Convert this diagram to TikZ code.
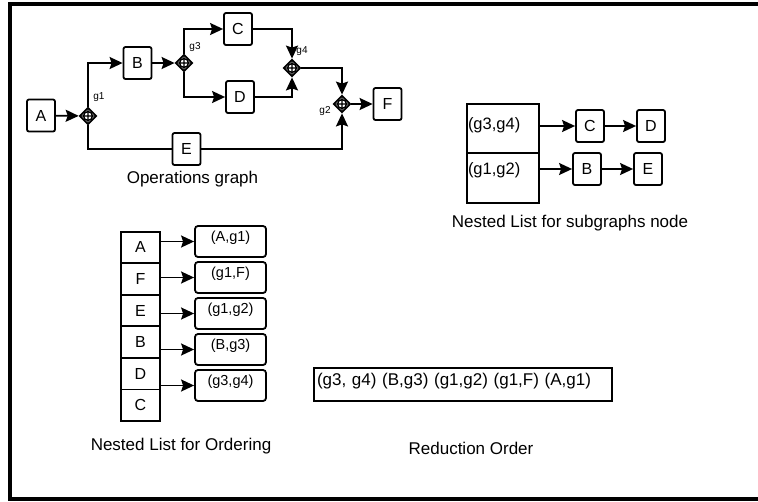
\documentclass[tikz,border=0pt]{standalone}
\usepackage{fontspec}
\setmainfont{Liberation Sans}
\usetikzlibrary{arrows.meta,positioning,shapes.geometric}

\begin{document}
\begin{tikzpicture}
    [x=1pt,y=-1pt,
     op/.style={draw,rectangle,rounded corners=2pt,line width=1.8pt,
       minimum width=28pt,minimum height=32pt,inner sep=0pt,
       font=\fontsize{16}{18}\selectfont},
     gate/.style={draw,diamond,line width=1.8pt,minimum size=17pt,inner sep=0pt,
       path picture={\draw[line width=1.4pt]
         (path picture bounding box.center) circle (4.5pt)
         (path picture bounding box.north) -- (path picture bounding box.south)
         (path picture bounding box.west) -- (path picture bounding box.east);}},
     glabel/.style={font=\fontsize{10}{12}\selectfont,inner sep=0pt},
     caption/.style={font=\fontsize{17}{20}\selectfont,inner sep=0pt},
     cell/.style={draw,rectangle,line width=1.8pt,inner sep=0pt},
     ordbox/.style={draw,rectangle,rounded corners=3pt,line width=1.8pt,
       minimum width=71pt,minimum height=31pt,inner sep=0pt,
       font=\fontsize{14.5}{17}\selectfont,text height=10.6pt,text depth=11.5pt},
     link/.style={line width=1.8pt},
     arr/.style={link,-{Stealth[length=13pt,width=12pt,inset=2pt]}}]
    \useasboundingbox (0,0) rectangle (758,501);
    \draw[line width=3.4pt] (770,4) -- (10,4) -- (10,499) -- (770,499);

    \node[op] (A) at (41,115.5) {A};
    \node[gate] (g1) at (88,116) {};
    \node[op] (B) at (137.5,63) {B};
    \node[gate] (g3) at (184,63) {};
    \node[op] (C) at (238,29) {C};
    \node[op] (D) at (240,97) {D};
    \node[gate] (g4) at (292,68) {};
    \node[gate] (g2) at (342,104) {};
    \node[op] (F) at (387.5,104) {F};
    \node[op] (E) at (186.5,149) {E};

    \node[glabel] (g1 txt) at (99,97) {g1};
    \node[glabel] (g3 txt) at (195,47) {g3};
    \node[glabel] (g4 txt) at (302,51) {g4};
    \node[glabel] (g2 txt) at (325,111) {g2};

    \draw[arr] (A) -- (g1);
    \draw[arr] (g1) |- (B);
    \draw[arr] (B) -- (g3);
    \draw[arr] (g3) |- (C);
    \draw[arr] (g3) |- (D);
    \draw[arr] (C) -| (g4);
    \draw[arr] (D) -| (g4);
    \draw[arr] (g4) -| (g2);
    \draw[arr] (g2) -- (F);
    \draw[link] (g1) |- (E);
    \draw[arr] (E) -| (g2);

    \node[caption] (ops cap) at (192.5,179) {Operations graph};

    \begin{scope}[font=\fontsize{16.5}{19}\selectfont]
      \node[cell,text width=70pt,inner xsep=1pt,align=left,minimum height=49pt,
            text height=12pt,text depth=10.5pt] (sg top) at (503,128.5) {(g3,g4)};
      \node[cell,text width=70pt,inner xsep=1pt,align=left,minimum height=50pt,
            text height=12pt,text depth=19.5pt] (sg bot) at (503,178) {(g1,g2)};
    \end{scope}
    \node[op] (sg C) at (590,126) {C};
    \node[op] (sg D) at (651,126) {D};
    \node[op] (sg B) at (587,169) {B};
    \node[op] (sg E) at (648,169) {E};

    \draw[arr] (sg top.east |- sg C) -- (sg C);
    \draw[arr] (sg C) -- (sg D);
    \draw[arr] (sg bot.east |- sg B) -- (sg B);
    \draw[arr] (sg B) -- (sg E);

    \node[caption] (sg cap) at (570,223.5) {Nested List for subgraphs node};

    \foreach \t [count=\i] in {A,F,E,B,D,C}
      \node[cell,minimum width=39pt,minimum height=31.6pt,
            font=\fontsize{16}{18}\selectfont] (o\i) at (140.5,{215.9+31.55*\i}) {\t};
    \foreach \t [count=\i] in {{(A,g1)},{(g1,F)},{(g1,g2)},{(B,g3)},{(g3,g4)}}
      \node[ordbox] (r\i) at (230.5,{205.5+36*\i}) {\t};
    \foreach \i in {1,...,5}
      \draw[arr] (o\i.east |- r\i) -- (r\i);

    \node[caption] (ord cap) at (181,446) {Nested List for Ordering};

    \node[cell,text width=292pt,inner xsep=3pt,align=left,minimum height=33pt,
          font=\fontsize{17}{20}\selectfont,text height=12.4pt,text depth=10.6pt]
      (red) at (463,384.5) {(g3, g4) (B,g3) (g1,g2) (g1,F) (A,g1)};

    \node[caption] (red cap) at (471,448) {Reduction Order};
  \end{tikzpicture}
\end{document}
